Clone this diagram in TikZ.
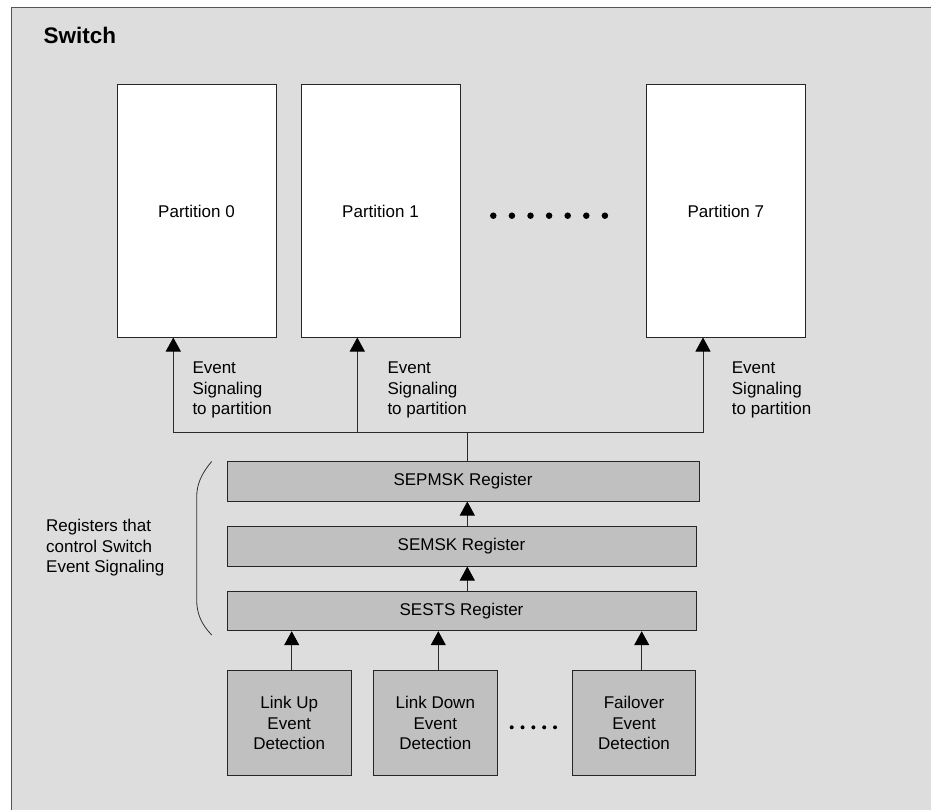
\documentclass[tikz,border=0pt]{standalone}
\usepackage{fontspec}
\setmainfont{Liberation Sans}
\usetikzlibrary{arrows.meta}
\definecolor{bgcol}{HTML}{DDDDDD}
\definecolor{regfill}{HTML}{C0C0C0}
\definecolor{linecol}{HTML}{2A2A2A}
\definecolor{framecol}{HTML}{555555}
\begin{document}
\begin{tikzpicture}[x=1pt,y=-1pt,
  every node/.style={font=\fontsize{17}{20.5}\selectfont, text=black},
  part/.style={draw=black!85, line width=1pt, fill=white, minimum width=159pt, minimum height=252pt, inner sep=0pt},
  reg/.style={draw=black!85, line width=1pt, fill=regfill, minimum height=40pt, inner sep=0pt},
  det/.style={draw=black!85, line width=1pt, fill=regfill, minimum width=124pt, minimum height=104.6pt, inner sep=0pt, align=center},
  lbl/.style={align=left, inner sep=0pt, anchor=north west},
  conn/.style={draw=linecol, line width=1pt},
  arr/.style={conn, -{Triangle[width=15pt,length=14pt,color=black]}},
  bigdot/.style={fill=black, circle, inner sep=0pt, minimum size=6.5pt},
  smalldot/.style={fill=black, circle, inner sep=0pt, minimum size=4pt}
]
\useasboundingbox (0,0) rectangle (931,810);
\fill[bgcol] (11,8) rectangle (931,810);
\draw[framecol, line width=1pt] (11,810) -- (11,8) -- (931,8);

\node[anchor=base west, inner sep=0pt, font=\fontsize{22.5}{27}\selectfont\bfseries] (title) at (43.3,44) {Switch};

% partitions
\node[part] (p0) at (196.5,211) {Partition 0};
\node[part] (p1) at (380.5,211) {Partition 1};
\node[part, minimum width=159.7pt] (p7) at (725.85,211) {Partition 7};
\foreach \i in {0,...,6} \node[bigdot] (pd\i) at (493.3+18.6*\i, 215.7) {};

% registers
\node[reg, minimum width=472pt] (sepmsk) at (463,481) {SEPMSK Register};
\node[reg, minimum width=469pt] (semsk) at (461.5,546) {SEMSK Register};
\node[reg, minimum width=469pt, minimum height=39.7pt] (sests) at (461.5,610.85) {SESTS Register};

% detection
\node[det, minimum width=123.7pt] (lu) at (289.2,723) {Link Up\\Event\\Detection};
\node[det] (ld) at (435.3,723) {Link Down\\Event\\Detection};
\node[det, minimum width=123.4pt] (fo) at (634,723) {Failover\\Event\\Detection};
\foreach \i in {0,...,4} \node[smalldot] (dd\i) at (511.7+10.83*\i, 727.3) {};

% labels
\node[lbl] (e0) at (192.3,361.7) {Event\\Signaling\\to partition};
\node[lbl] (e1) at (387.3,361.7) {Event\\Signaling\\to partition};
\node[lbl] (e7) at (731.7,361.7) {Event\\Signaling\\to partition};
\node[lbl] (regl) at (46,519) {Registers that\\control Switch\\Event Signaling};

% brace
\draw[line width=0.8pt, draw=black!80] (211.7,461.5) .. controls (201,474) and (196.7,485) .. (196.7,497) -- (196.7,600) .. controls (196.7,613) and (201,624) .. (211.7,635);

% connectors
\coordinate (a0) at (173.3,432.7);
\coordinate (a1) at (357.3,432.7);
\coordinate (a7) at (703,432.7);
\coordinate (am) at (467.3,432.7);
\draw[conn] (a0) -- (a7);
\draw[arr] (a0) -- (a0 |- p0.south);
\draw[arr] (a1) -- (a1 |- p1.south);
\draw[arr] (a7) -- (a7 |- p7.south);
\draw[conn] (am) -- (am |- sepmsk.north);
\draw[arr] (am |- semsk.north) -- (am |- sepmsk.south);
\draw[arr] (am |- sests.north) -- (am |- semsk.south);
\coordinate (d1) at (291.7,0);
\coordinate (d2) at (438.3,0);
\coordinate (d3) at (641.7,0);
\draw[arr] (d1 |- lu.north) -- (d1 |- sests.south);
\draw[arr] (d2 |- ld.north) -- (d2 |- sests.south);
\draw[arr] (d3 |- fo.north) -- (d3 |- sests.south);
\end{tikzpicture}
\end{document}
